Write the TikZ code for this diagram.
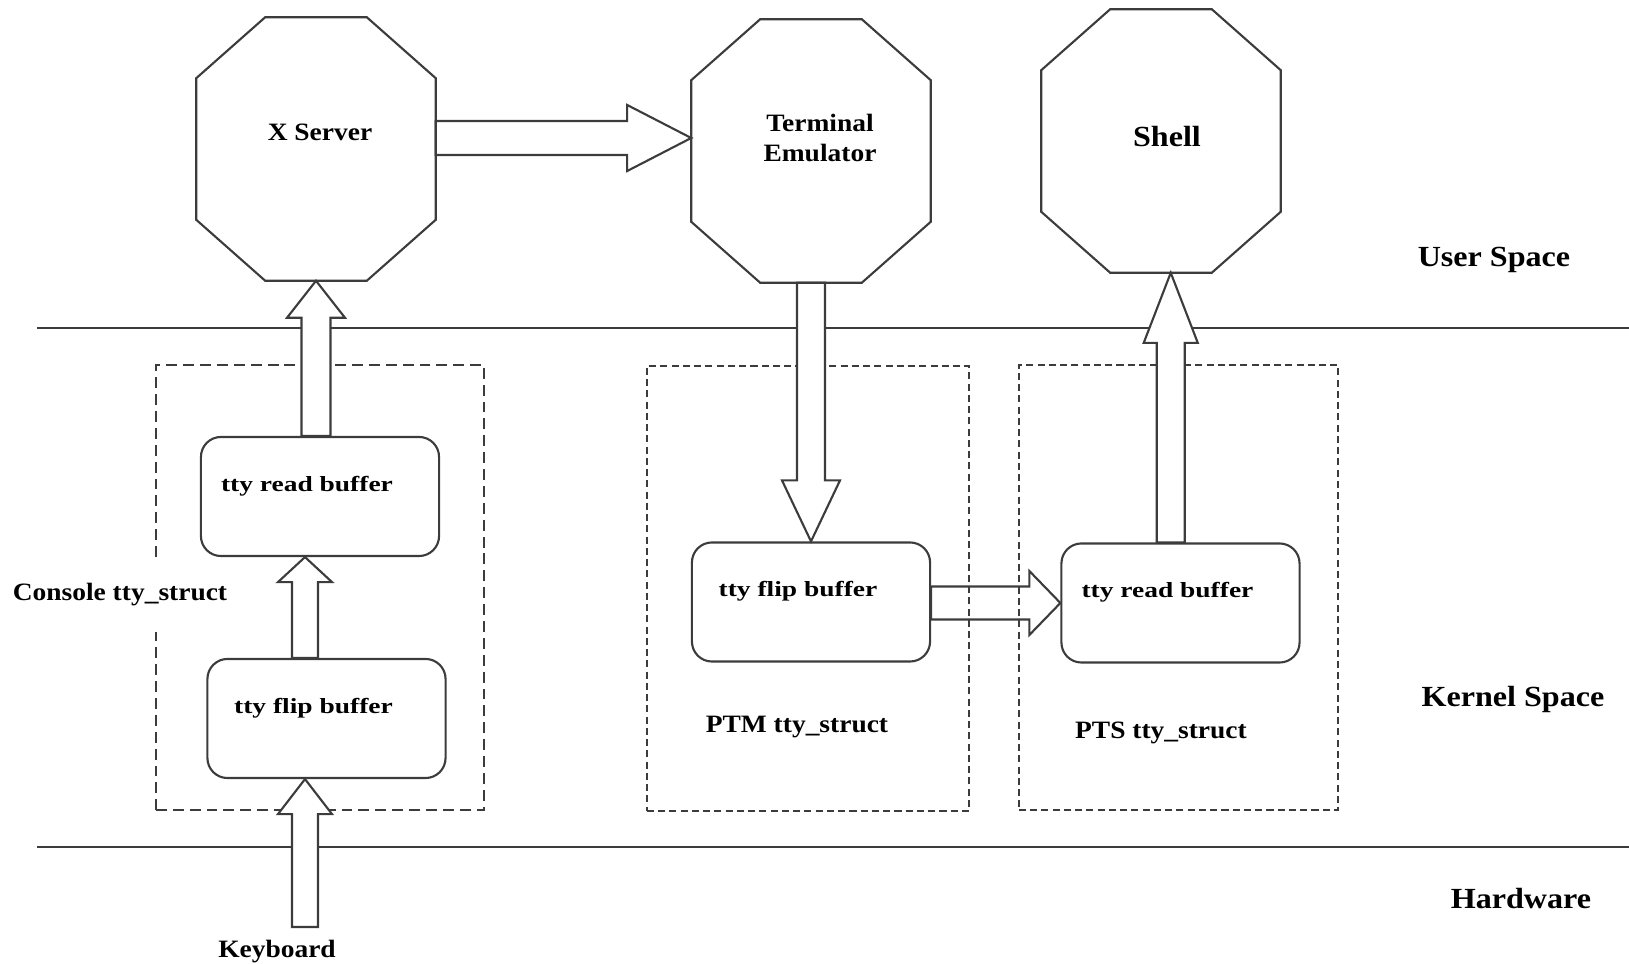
\documentclass[tikz,border=0pt]{standalone}
\usepackage{fontspec}
\setmainfont{Liberation Serif}[FakeStretch=1.1]
\newfontfamily\wideserif{Liberation Serif}[FakeStretch=1.27]
\usetikzlibrary{calc}
\usetikzlibrary{positioning}

\definecolor{edgegray}{HTML}{3C3C3C}

\tikzset{
  octo/.style={minimum width=2.38cm, minimum height=2.62cm, inner sep=0pt},
  buf/.style={draw=edgegray, line width=0.6pt, rounded corners=0.2cm,
    minimum width=2.38cm, minimum height=1.19cm, inner sep=0pt,
    text height=4pt, text depth=7pt,
    font=\wideserif\bfseries\fontsize{6.15}{7.5}\selectfont,
    execute at end node={\hspace{0.26cm}}},
  grp/.style={draw=edgegray, line width=0.4pt, dash pattern=on 2pt off 1.2pt, inner sep=0pt},
  lbl/.style={font=\bfseries\fontsize{7.1}{8.5}\selectfont, inner sep=0pt, align=center},
  biglbl/.style={font=\bfseries\fontsize{8.3}{10}\selectfont, inner sep=0pt},
  layer/.style={draw=edgegray, line width=0.6pt},
  barrow/.style={draw=edgegray, fill=white, line width=0.6pt}
}

% octagon outline round a named node
\newcommand{\octframe}[1]{%
  \draw[layer] ($(#1.north west)+(69,0)$) -- ($(#1.north east)+(-69,0)$)
    -- ($(#1.north east)+(0,61)$) -- ($(#1.south east)+(0,-61)$)
    -- ($(#1.south east)+(-69,0)$) -- ($(#1.south west)+(69,0)$)
    -- ($(#1.south west)+(0,-61)$) -- ($(#1.north west)+(0,61)$) -- cycle;}

% block arrow: start, tip, half shaft, half head, head length
\newcommand{\blockarrow}[5]{%
  \coordinate (ah) at ($(#2)!#5!(#1)$);
  \draw[barrow] ($(#1)!#3!90:(#2)$) -- ($(ah)!#3!90:(#2)$) -- ($(ah)!#4!90:(#2)$)
    -- (#2) -- ($(ah)!#4!-90:(#2)$) -- ($(ah)!#3!-90:(#2)$) -- ($(#1)!#3!-90:(#2)$) -- cycle;}

\begin{document}
\begin{tikzpicture}[x=0.01cm, y=-0.01cm]
\useasboundingbox (0,0) rectangle (1629,964);

% layers
\draw[layer] (37,328) -- (1629,328);
\draw[layer] (37,847) -- (1629,847);
\node[biglbl] (user) at (1494,260) {User Space};
\node[biglbl] (kern) at (1513,699) {Kernel Space};
\node[biglbl] (hw) at (1521,899) {Hardware};

% user space programs
\node[octo] (xsrv) at (316,149) {};
\node[octo] (term) at (811,151) {};
\node[octo] (shell) at (1161,141) {};
\foreach \o in {xsrv,term,shell} {\octframe{\o}}
\node[lbl] (xsrvt) at (320,132) {X Server};
\node[lbl] (termt) at (820,138) {Terminal\\Emulator};
\node[biglbl] (shellt) at (1167,137) {Shell};

% kernel buffers
\node[buf] (conread) at (320,496.5) {tty read buffer};
\node[buf] (conflip) at (326.5,718.5) {tty flip buffer};
\node[buf] (ptmflip) at (811,602) {tty flip buffer};
\node[buf] (ptsread) at (1180.5,603) {tty read buffer};

\blockarrow{ptmflip.east |- ptsread.west}{ptsread.west}{0.165cm}{0.32cm}{0.31cm}

% tty_struct groups
\node[grp, minimum width=3.28cm, minimum height=4.45cm, line width=0.6pt,
  dash pattern=on 3.1pt off 1.7pt] (congrp) at (320,587.5) {};
\node[grp, minimum width=3.22cm, minimum height=4.45cm] (ptmgrp) at (808,588.5) {};
\node[grp, minimum width=3.19cm, minimum height=4.45cm] (ptsgrp) at (1178.5,587.5) {};
\node[lbl, fill=white, minimum height=0.74cm] (conlbl) at (120,595) {Console tty\_struct};
\node[lbl] (ptmlbl) at (797,727) {PTM tty\_struct};
\node[lbl] (ptslbl) at (1161,733) {PTS tty\_struct};
\node[lbl] (kbd) at (277,952) {Keyboard};
\coordinate (kb) at (305,927);
\coordinate (sx) at ($(shell.south)!.5!(ptsread.north)$);

% data flow
\blockarrow{xsrv.east |- termt}{term.west |- termt}{0.17cm}{0.33cm}{0.64cm}
\blockarrow{xsrv.south |- conread.north}{xsrv.south}{0.145cm}{0.29cm}{0.37cm}
\blockarrow{kb |- conflip.north}{kb |- conread.south}{0.13cm}{0.27cm}{0.25cm}
\blockarrow{kb}{kb |- conflip.south}{0.13cm}{0.27cm}{0.35cm}
\blockarrow{term.south}{ptmflip.north}{0.14cm}{0.29cm}{0.61cm}
\blockarrow{sx |- ptsread.north}{sx |- shell.south}{0.14cm}{0.27cm}{0.70cm}
\end{tikzpicture}
\end{document}
